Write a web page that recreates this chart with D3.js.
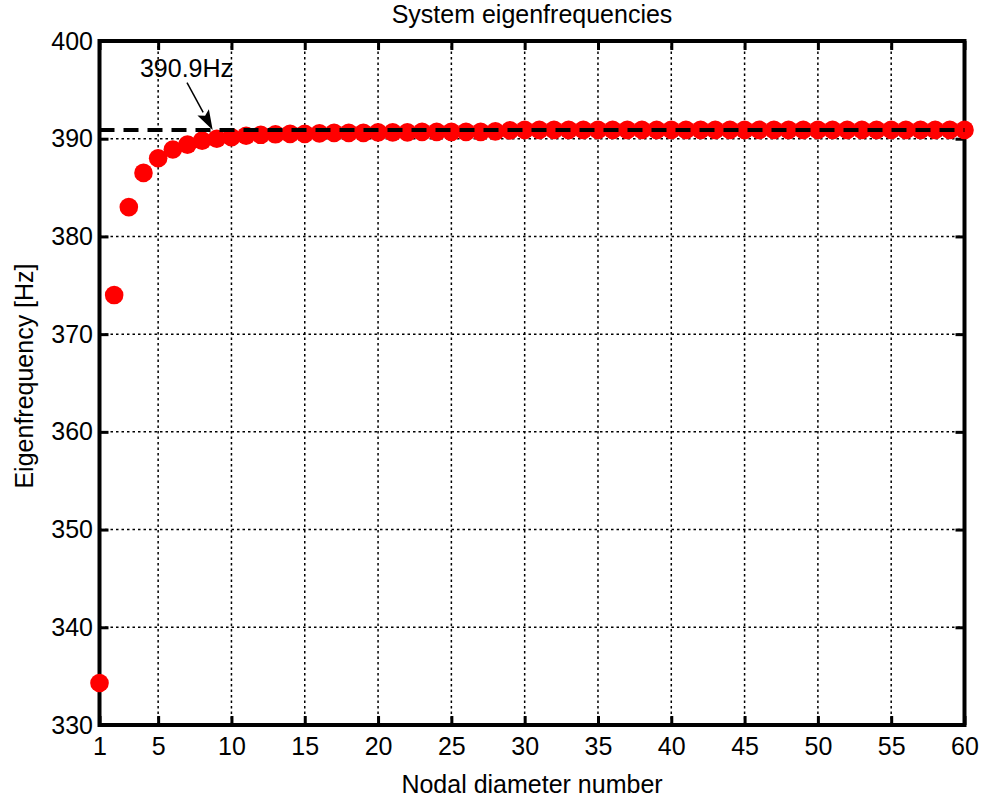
<!DOCTYPE html>
<html>
<head>
<meta charset="utf-8">
<script src="https://cdn.jsdelivr.net/npm/d3@7"></script>
<style>
  body { margin: 0; background: #fff; }
  text { font-family: "Liberation Sans", Arial, sans-serif; fill: #000; }
</style>
</head>
<body>
<svg id="eigengraph"></svg>
<script>
// eigenfrequency [Hz] for nodal diameter 1..60
var eigenfreqs = [334.3, 374.0, 383.0, 386.5, 388.0, 388.9, 389.4, 389.8, 390.0, 390.15,
                  390.3, 390.4, 390.45, 390.5, 390.5, 390.55, 390.6, 390.6, 390.6, 390.65,
                  390.65, 390.65, 390.7, 390.7, 390.7, 390.7, 390.7, 390.75, 390.85, 390.9,
                  390.9, 390.9, 390.9, 390.9, 390.9, 390.9, 390.9, 390.9, 390.9, 390.9,
                  390.9, 390.9, 390.9, 390.9, 390.9, 390.9, 390.9, 390.9, 390.9, 390.9,
                  390.9, 390.9, 390.9, 390.9, 390.9, 390.9, 390.9, 390.9, 390.9, 390.9]
var xTicks = [1, 5, 10, 15, 20, 25, 30, 35, 40, 45, 50, 55, 60]
var yTicks = [330, 340, 350, 360, 370, 380, 390, 400]
var limitFreq = 390.9
var limitLabel = "390.9Hz"
// annotation arrow in data units: [from, to]
var arrowFrom = {x: 6.97, y: 395.75}
var arrowTo = {x: 8.72, y: 390.9}
var labelAt = {x: 3.76, y: 396.3}

var screen = {width: 981, height: 802}
var margins = {top: 41, bottom: 77, left: 99.5, right: 16.5}

var svg = d3.select("#eigengraph")
    .attr("width", screen.width)
    .attr("height", screen.height)

var xScale = d3.scaleLinear()
    .domain([1, 60])
    .range([margins.left, screen.width - margins.right])
var yScale = d3.scaleLinear()
    .domain([330, 400])
    .range([screen.height - margins.bottom, margins.top])

var x0 = xScale(1), x1 = xScale(60), y0 = yScale(330), y1 = yScale(400)

// grid
var grid = svg.append("g").classed("grid", true)
    .attr("stroke", "#000")
    .attr("stroke-width", 1.5)
    .attr("stroke-dasharray", "2.5,3")
grid.selectAll("line.gx")
    .data(xTicks.filter(function(t){return t > 1 && t < 60}))
    .enter().append("line")
    .attr("x1", function(t){return xScale(t)})
    .attr("x2", function(t){return xScale(t)})
    .attr("y1", y0).attr("y2", y1)
grid.selectAll("line.gy")
    .data(yTicks.filter(function(t){return t > 330 && t < 400}))
    .enter().append("line")
    .attr("y1", function(t){return yScale(t)})
    .attr("y2", function(t){return yScale(t)})
    .attr("x1", x0).attr("x2", x1)

// axes (ticks inward on all four sides)
var axes = svg.append("g").classed("axes", true)
var tickLen = 9
axes.append("g")
    .attr("transform", "translate(0," + y0 + ")")
    .call(d3.axisBottom(xScale).tickValues(xTicks).tickSize(-tickLen).tickPadding(12))
axes.append("g")
    .attr("transform", "translate(0," + y1 + ")")
    .call(d3.axisTop(xScale).tickValues(xTicks).tickSize(-tickLen).tickFormat(""))
axes.append("g")
    .attr("transform", "translate(" + x0 + ",0)")
    .call(d3.axisLeft(yScale).tickValues(yTicks).tickSize(-tickLen).tickPadding(6.5))
axes.append("g")
    .attr("transform", "translate(" + x1 + ",0)")
    .call(d3.axisRight(yScale).tickValues(yTicks).tickSize(-tickLen).tickFormat(""))
axes.selectAll(".domain").remove()
axes.selectAll(".tick line").attr("stroke", "#000").attr("stroke-width", 3)
axes.selectAll(".tick text")
    .style("font-family", "'Liberation Sans', Arial, sans-serif")
    .style("font-size", "25px")
    .attr("fill", "#000")

// box
svg.append("rect")
    .attr("x", x0).attr("y", y1)
    .attr("width", x1 - x0).attr("height", y0 - y1)
    .attr("fill", "none")
    .attr("stroke", "#000")
    .attr("stroke-width", 4)

// dots
svg.append("g").classed("dots", true)
    .selectAll("circle")
    .data(eigenfreqs)
    .enter().append("circle")
    .attr("cx", function(d, i){return xScale(i + 1)})
    .attr("cy", function(d){return yScale(d)})
    .attr("r", 9.3)
    .attr("fill", "#ff0000")

// limit line
svg.append("line")
    .attr("x1", x0).attr("x2", x1)
    .attr("y1", yScale(limitFreq)).attr("y2", yScale(limitFreq))
    .attr("stroke", "#000")
    .attr("stroke-width", 4)
    .attr("stroke-dasharray", "15,9")

// annotation arrow
var ax0 = xScale(arrowFrom.x), ay0 = yScale(arrowFrom.y)
var ax1 = xScale(arrowTo.x), ay1 = yScale(arrowTo.y)
var ang = Math.atan2(ay1 - ay0, ax1 - ax0)
var headL = 20, headW = 6.5
var bx = ax1 - headL * Math.cos(ang), by = ay1 - headL * Math.sin(ang)
var nx = -Math.sin(ang), ny = Math.cos(ang)
svg.append("line")
    .attr("x1", ax0).attr("y1", ay0)
    .attr("x2", bx).attr("y2", by)
    .attr("stroke", "#000").attr("stroke-width", 1.5)
svg.append("path")
    .attr("d", "M" + ax1 + "," + ay1 +
               "L" + (bx + nx * headW) + "," + (by + ny * headW) +
               "L" + (bx + 4 * Math.cos(ang)) + "," + (by + 4 * Math.sin(ang)) +
               "L" + (bx - nx * headW) + "," + (by - ny * headW) + "Z")
    .attr("fill", "#000")
svg.append("text")
    .text(limitLabel)
    .attr("x", xScale(labelAt.x))
    .attr("y", yScale(labelAt.y))
    .style("font-size", "25px")

// labels
svg.append("text")
    .text("System eigenfrequencies")
    .attr("text-anchor", "middle")
    .attr("x", (x0 + x1) / 2)
    .attr("y", 23)
    .style("font-size", "25px")
svg.append("text")
    .text("Nodal diameter number")
    .attr("text-anchor", "middle")
    .attr("x", (x0 + x1) / 2)
    .attr("y", 793)
    .style("font-size", "25px")
svg.append("g")
    .attr("transform", "translate(33,376)")
    .append("text")
    .text("Eigenfrequency [Hz]")
    .attr("text-anchor", "middle")
    .attr("transform", "rotate(270)")
    .style("font-size", "25px")
</script>
</body>
</html>
